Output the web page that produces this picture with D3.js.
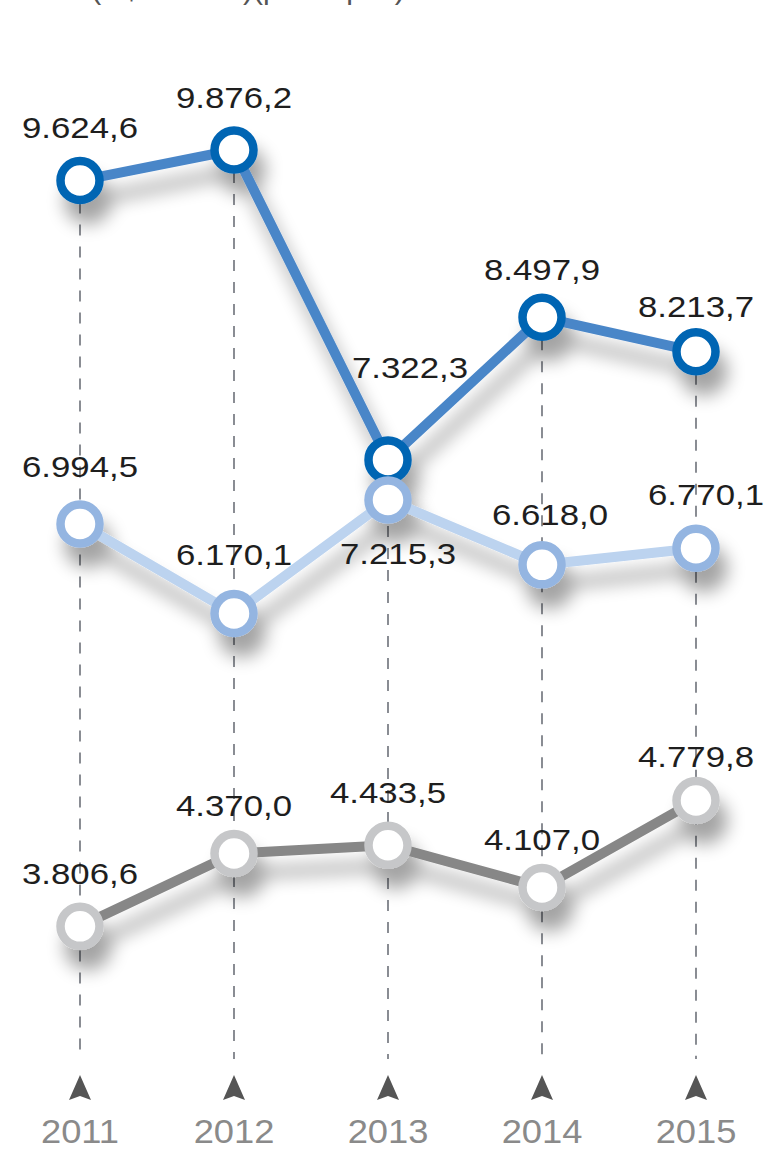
<!DOCTYPE html>
<html lang="pt">
<head>
<meta charset="UTF-8">
<script src="https://d3js.org/d3.v7.min.js"></script>
<title>chart</title>
<style>
  body { margin: 0; background: #fff; }
  text { font-family: "Liberation Sans", Arial, Helvetica, sans-serif; }
</style>
</head>
<body>
<div id="container"></div>
<script>
// dados
var years = ["2011", "2012", "2013", "2014", "2015"];
var topValues = [9624.6, 9876.2, 7322.3, 8497.9, 8213.7];
var midValues = [6994.5, 6170.1, 7215.3, 6618.0, 6770.1];
var lowValues = [3806.6, 4370.0, 4433.5, 4107.0, 4779.8];
var titleText = "(R$ bilhões)(per capita)";

var width = 783, height = 1151;

var fmt = d3.formatLocale({decimal: ",", thousands: ".", grouping: [3], currency: ["", ""]}).format(",.1f");

var svg = d3.select("#container").append("svg")
    .attr("width", width).attr("height", height);

// sombra
var defs = svg.append("defs");
var f = defs.append("filter").attr("id", "shadow")
    .attr("x", "-20%").attr("y", "-20%").attr("width", "150%").attr("height", "170%");
f.append("feGaussianBlur").attr("in", "SourceAlpha").attr("stdDeviation", 9).attr("result", "blur");
f.append("feOffset").attr("in", "blur").attr("dx", 8).attr("dy", 20).attr("result", "off");
f.append("feComponentTransfer").attr("in", "off").attr("result", "soft")
  .append("feFuncA").attr("type", "linear").attr("slope", 0.36);
var merge = f.append("feMerge");
merge.append("feMergeNode").attr("in", "soft");
merge.append("feMergeNode").attr("in", "SourceGraphic");

var x = d3.scalePoint().domain(years).range([80, 696]);

// cada serie tem a sua faixa vertical
var series = [
  {values: topValues, y: d3.scaleLinear().domain([7000, 10000]).range([499, 135]),
   line: "#4a86c8", ring: "#0065b3",
   off: [[0, -43], [0, -42], [22, -82], [0, -37], [0, -35]]},
  {values: midValues, y: d3.scaleLinear().domain([6000, 7500]).range([632, 469]),
   line: "#bcd3ef", ring: "#94b5e1",
   off: [[0, -47], [0, -49], [10, 64], [8, -40], [10, -43]]},
  {values: lowValues, y: d3.scaleLinear().domain([3500, 5000]).range([966, 772]),
   line: "#878787", ring: "#c6c7c9",
   off: [[0, -42], [0, -37], [0, -42], [0, -37], [0, -33]]}
];

// titulo (cortado no topo, como no original)
svg.append("text")
    .attr("x", 248).attr("y", -1)
    .attr("text-anchor", "middle")
    .attr("font-size", 30).attr("fill", "#555")
    .text(titleText);

// linhas tracejadas verticais
svg.append("g").selectAll("line")
  .data(years)
  .enter().append("line")
    .attr("x1", d => x(d)).attr("x2", d => x(d))
    .attr("y1", (d, i) => series[0].y(topValues[i]))
    .attr("y2", 1059)
    .attr("stroke", "#3d424c").attr("stroke-width", 1.2)
    .attr("stroke-dasharray", "11,11");

// setas
svg.append("g").selectAll("path")
  .data(years)
  .enter().append("path")
    .attr("transform", d => `translate(${x(d)},1088)`)
    .attr("d", "M0,-13 L11,12 L0,8 L-11,12 Z")
    .attr("fill", "#555");

// anos
svg.append("g").selectAll("text")
  .data(years)
  .enter().append("text")
    .attr("transform", d => `translate(${x(d)},1143) scale(1.1,1)`)
    .attr("text-anchor", "middle")
    .attr("font-size", 33).attr("fill", "#8a8a8a")
    .text(d => d);

// series
series.forEach(function (s) {
  var g = svg.append("g").attr("filter", "url(#shadow)");
  var line = d3.line().x((d, i) => x(years[i])).y(d => s.y(d));
  g.append("path")
    .datum(s.values)
    .attr("d", line)
    .attr("fill", "none")
    .attr("stroke", s.line).attr("stroke-width", 10)
    .attr("stroke-linejoin", "round");
  g.selectAll("circle")
    .data(s.values)
    .enter().append("circle")
      .attr("cx", (d, i) => x(years[i]))
      .attr("cy", d => s.y(d))
      .attr("r", 19.5)
      .attr("fill", "#fff")
      .attr("stroke", s.ring).attr("stroke-width", 8.5);
});

// rotulos de valores
series.forEach(function (s) {
  svg.append("g").selectAll("text")
    .data(s.values)
    .enter().append("text")
      .attr("transform", (d, i) => `translate(${x(years[i]) + s.off[i][0]},${s.y(d) + s.off[i][1]}) scale(1.2,1)`)
      .attr("text-anchor", "middle")
      .attr("font-size", 29).attr("fill", "#1e1e1e")
      .text(d => fmt(d));
});
</script>
</body>
</html>
